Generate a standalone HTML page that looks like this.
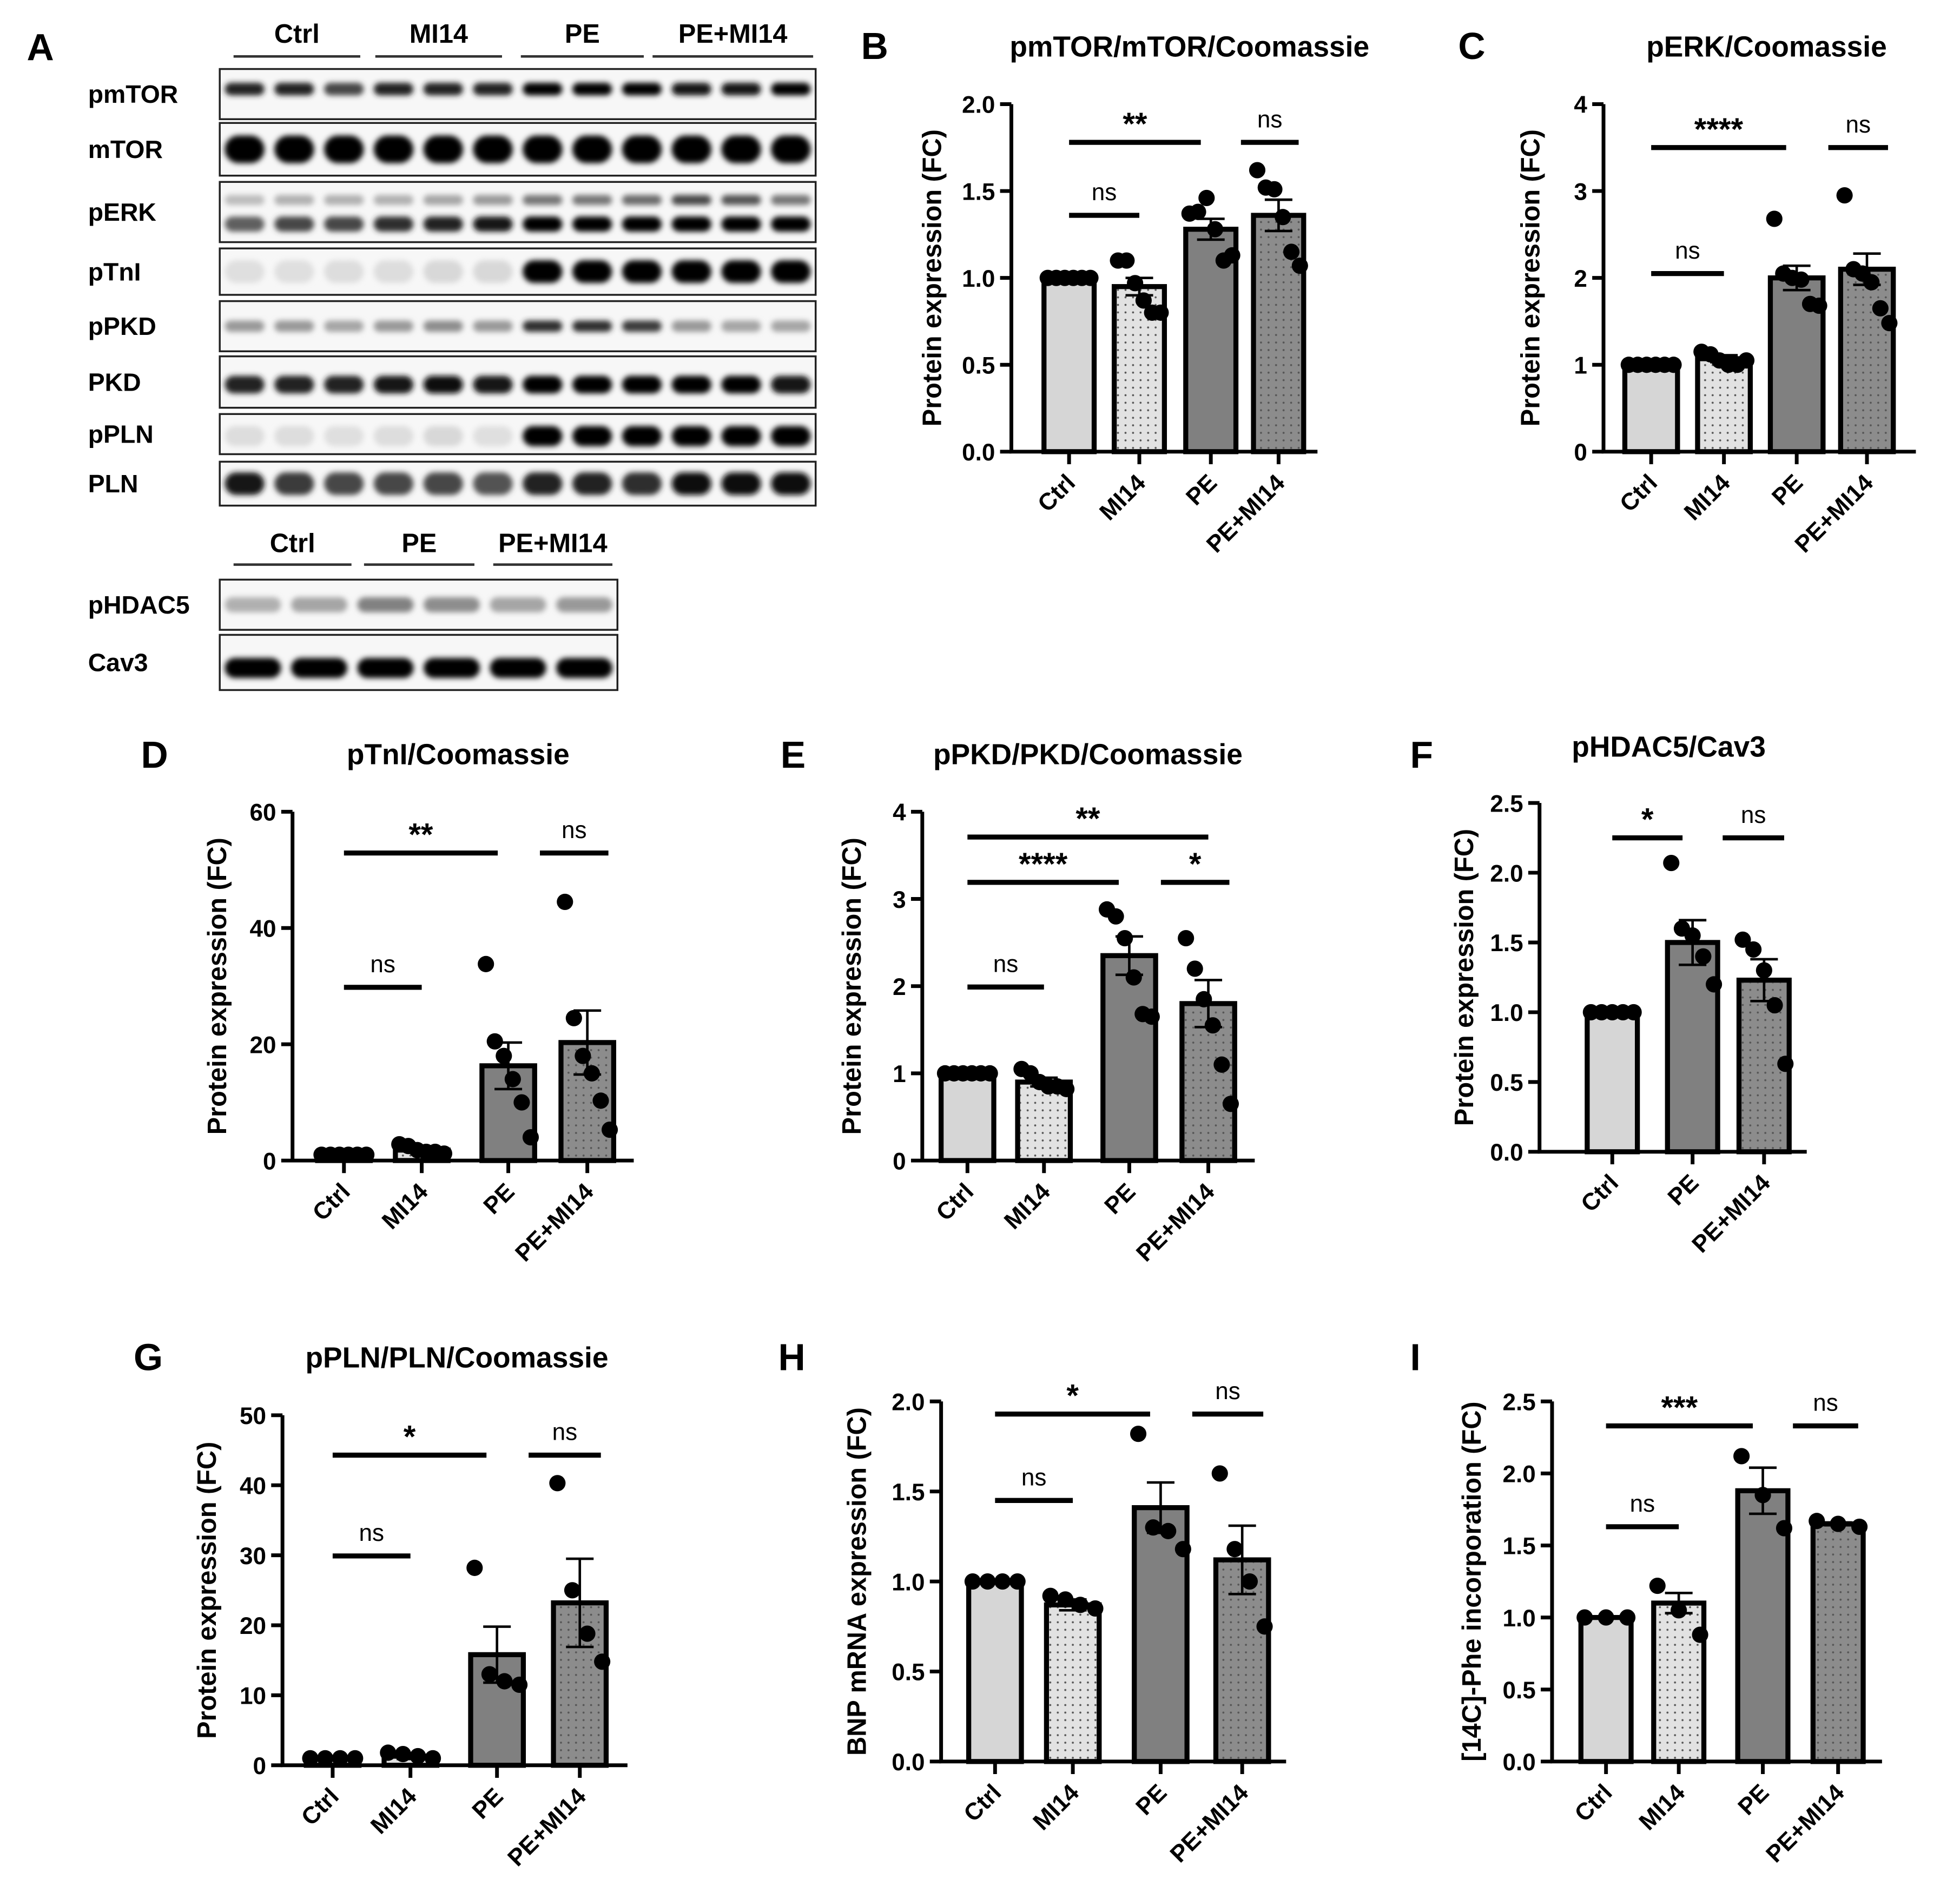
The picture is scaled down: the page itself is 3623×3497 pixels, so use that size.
<!DOCTYPE html>
<html><head><meta charset="utf-8"><style>
html,body{margin:0;padding:0;background:#fff;}
svg{display:block;font-family:"Liberation Sans",Arial,sans-serif;font-weight:bold;}
</style></head><body>
<svg id="fig" width="3623" height="3497" viewBox="0 0 1562 1508" xmlns="http://www.w3.org/2000/svg">
<defs>
<pattern id="dots" width="6" height="6" patternUnits="userSpaceOnUse"><circle cx="3" cy="3" r="0.8" fill="#555"/></pattern>
<filter id="blur" x="-20%" y="-50%" width="140%" height="200%"><feGaussianBlur stdDeviation="2.2"/></filter>
</defs>
<g id="blots"></g>
<g id="charts"></g>
</svg>
<script>
// ---------- data ----------
const cats4 = ["Ctrl","MI14","PE","PE+MI14"];
const cats3 = ["Ctrl","PE","PE+MI14"];

const bTicks = [0,0.5,1.0,1.5,2.0];
const bMeans = [1.0,0.95,1.28,1.36];
const bSems = [0.01,0.05,0.06,0.09];
const bPts = [[1,1,1,1,1,1],[1.1,1.1,0.97,0.87,0.8,0.8],[1.37,1.38,1.46,1.28,1.1,1.13],[1.62,1.52,1.51,1.35,1.15,1.07]];
const bSig = [[0,2,1.78,"**"],[2,3,1.78,"ns"],[0,1,1.36,"ns"]];

const cTicks = [0,1,2,3,4];
const cMeans = [1.0,1.07,2.0,2.1];
const cSems = [0.01,0.04,0.14,0.18];
const cPts = [[1,1,1,1,1,1],[1.15,1.12,1.05,1.0,1.0,1.05],[2.68,2.05,2.0,1.98,1.7,1.68],[2.95,2.1,2.05,1.95,1.65,1.48]];
const cSig = [[0,2,3.5,"****"],[2,3,3.5,"ns"],[0,1,2.05,"ns"]];

const dTicks = [0,20,40,60];
const dMeans = [1,1.8,16.3,20.3];
const dSems = [0.2,0.4,4,5.5];
const dPts = [[1,1,1,1,1,1],[2.8,2.5,1.8,1.5,1.5,1.2],[33.8,20.5,18,14,10,4],[44.5,24.5,18,15,10.3,5.3]];
const dSig = [[0,2,52.9,"**"],[2,3,52.9,"ns"],[0,1,29.8,"ns"]];

const eTicks = [0,1,2,3,4];
const eMeans = [1.0,0.9,2.35,1.8];
const eSems = [0.02,0.05,0.22,0.27];
const ePts = [[1,1,1,1,1,1],[1.05,1.0,0.9,0.85,0.85,0.82],[2.88,2.8,2.55,2.1,1.68,1.65],[2.55,2.2,1.85,1.55,1.1,0.65]];
const eSig = [[0,3,3.71,"**"],[0,2,3.19,"****"],[2,3,3.19,"*"],[0,1,1.99,"ns"]];

const fTicks = [0,0.5,1.0,1.5,2.0,2.5];
const fMeans = [1.0,1.5,1.23];
const fSems = [0.005,0.16,0.15];
const fPts = [[1,1,1,1,1],[2.07,1.6,1.55,1.4,1.2],[1.52,1.45,1.3,1.05,0.63]];
const fSig = [[0,1,2.25,"*"],[1,2,2.25,"ns"]];

const gTicks = [0,10,20,30,40,50];
const gMeans = [1,1.3,15.8,23.2];
const gSems = [0.1,0.4,4,6.3];
const gPts = [[1,1,1,1],[1.8,1.6,1.3,1.0],[28.2,13,12,11.5],[40.3,25,18.8,14.8]];
const gSig = [[0,2,44.3,"*"],[2,3,44.3,"ns"],[0,1,29.9,"ns"]];

const hTicks = [0,0.5,1.0,1.5,2.0];
const hMeans = [1.0,0.87,1.41,1.12];
const hSems = [0.005,0.03,0.14,0.19];
const hPts = [[1,1,1,1],[0.92,0.9,0.87,0.85],[1.82,1.3,1.28,1.18],[1.6,1.18,1.0,0.75]];
const hSig = [[0,2,1.93,"*"],[2,3,1.93,"ns"],[0,1,1.45,"ns"]];

const iTicks = [0,0.5,1.0,1.5,2.0,2.5];
const iMeans = [1.0,1.1,1.88,1.65];
const iSems = [0.005,0.07,0.16,0.01];
const iPts = [[1,1,1],[1.22,1.05,0.88],[2.12,1.85,1.62],[1.67,1.65,1.63]];
const iSig = [[0,2,2.33,"***"],[2,3,2.33,"ns"],[0,1,1.63,"ns"]];

const NS="http://www.w3.org/2000/svg";
function mk(tag, attrs, parent){const e=document.createElementNS(NS,tag);for(const k in attrs)e.setAttribute(k,attrs[k]);parent.appendChild(e);return e;}

const fills = {"Ctrl":["#d6d6d6",false],"MI14":["#e2e2e2",true],"PE":["#808080",false],"PE+MI14":["#8c8c8c",true]};

function chart(p){
  const root=document.getElementById('charts');
  const g=mk('g',{},root);
  
  
  const max=p.ticks[p.ticks.length-1];
  const y=v=>p.yBot-(v/max)*(p.yBot-p.yTop);
  const bw=p.bw||41;
  const L=mk('text',{x:p.lx,y:p.ly,'font-size':30,'text-anchor':'middle'},g);L.textContent=p.id.toUpperCase();
  
  
  if(p.title){const t=mk('text',{x:p.tx,y:p.ty,'font-size':23,'text-anchor':'middle'},g);t.textContent=p.title;
    
    }
  p.cats.forEach((c,i)=>{
    const cx=p.cx[i], m=p.means[i];
    const [col,dot]=fills[c];
    const r=mk('rect',{x:cx-bw/2,y:y(m),width:bw,height:p.yBot-y(m),fill:col,stroke:'#000','stroke-width':4},g);
    
    
    if(dot){const d=mk('rect',{x:cx-bw/2+2,y:y(m)+2,width:bw-4,height:Math.max(0,p.yBot-y(m)-4),fill:'url(#dots)'},g);
      
      }
    const pts=p.pts[i], n=pts.length, spread=bw*0.85;
    pts.forEach((v,j)=>{
      const ox= n>1 ? (j-(n-1)/2)*spread/(n-1) : 0;
      const ci=mk('circle',{cx:cx+ox,cy:y(v),r:6.5,fill:'#000'},g);
      
      
    });
    const s=p.sems[i];
    const eb=mk('path',{d:`M${cx},${y(m-s)}V${y(m+s)}M${cx-11},${y(m+s)}H${cx+11}M${cx-11},${y(m-s)}H${cx+11}`,stroke:'#000','stroke-width':2,fill:'none'},g);
    
    
    mk('line',{x1:cx,x2:cx,y1:p.yBot,y2:p.yBot+10,stroke:'#000','stroke-width':3},g);
    const lb=mk('text',{x:cx+6,y:p.yBot+26,'font-size':19,'text-anchor':'end',transform:`rotate(-45 ${cx+6} ${p.yBot+26})`},g);
    lb.textContent=c;
    
    
  });
  const ax=mk('path',{d:`M${p.x0},${p.yTop}V${p.yBot}H${p.x1}`,stroke:'#000','stroke-width':3,fill:'none'},g);
  
  
  p.ticks.forEach(t=>{
    mk('line',{x1:p.x0-9,x2:p.x0,y1:y(t),y2:y(t),stroke:'#000','stroke-width':3},g);
    const tl=mk('text',{x:p.x0-13,y:y(t)+7,'font-size':19,'text-anchor':'end'},g);
    tl.textContent=p.dec? t.toFixed(1): String(t);
    
    
  });
  const yt=mk('text',{x:p.ytx,y:(p.yTop+p.yBot)/2,'font-size':21,'text-anchor':'middle',transform:`rotate(-90 ${p.ytx} ${(p.yTop+p.yBot)/2})`},g);
  yt.textContent=p.ytitle;
  
  
  p.sig.forEach(([a,b,v,txt])=>{
    const follows=p.sig.some(s=>s[2]===v && s[1]===a);
    const precedes=p.sig.some(s=>s[2]===v && s[0]===b);
    const x1=follows? p.cx[a]+bw*0.6 : p.cx[a];
    const x2=precedes? p.cx[b]-bw*0.2 : (follows? p.cx[b]+bw*0.4 : p.cx[b]);
    const ln=mk('line',{x1:x1,x2:x2,y1:y(v),y2:y(v),stroke:'#000','stroke-width':4},g);
    
    
    const isNs=txt==='ns';
    const st=mk('text',{x:(x1+x2)/2,y:y(v)-(isNs?12:6),'font-size':isNs?19:25,'font-weight':isNs?'normal':'bold','text-anchor':'middle'},g);
    st.textContent=txt;
    
    
  });
}

const PE="Protein expression (FC)";
chart({id:'b',cats:cats4,ticks:bTicks,means:bMeans,sems:bSems,pts:bPts,sig:bSig,dec:true,x0:806,x1:1050,yTop:83,yBot:360,cx:[852,908,965,1019],lx:697,ly:47,title:"pmTOR/mTOR/Coomassie",tx:948,ty:45,ytx:750,ytitle:PE,bw:40});
chart({id:'c',cats:cats4,ticks:cTicks,means:cMeans,sems:cSems,pts:cPts,sig:cSig,dec:false,x0:1278,x1:1527,yTop:83,yBot:360,cx:[1316,1374,1432,1488],lx:1173,ly:47,title:"pERK/Coomassie",tx:1408,ty:45,ytx:1227,ytitle:PE,bw:42});
chart({id:'d',cats:cats4,ticks:dTicks,means:dMeans,sems:dSems,pts:dPts,sig:dSig,dec:false,x0:233,x1:505,yTop:647,yBot:925,cx:[274,336,405,468],lx:123,ly:612,title:"pTnI/Coomassie",tx:365,ty:609,ytx:180,ytitle:PE,bw:42});
chart({id:'e',cats:cats4,ticks:eTicks,means:eMeans,sems:eSems,pts:ePts,sig:eSig,dec:false,x0:735,x1:1000,yTop:647,yBot:925,cx:[771,832,900,963],lx:632,ly:612,title:"pPKD/PKD/Coomassie",tx:867,ty:609,ytx:686,ytitle:PE,bw:42});
chart({id:'f',cats:cats3,ticks:fTicks,means:fMeans,sems:fSems,pts:fPts,sig:fSig,dec:true,x0:1227,x1:1440,yTop:640,yBot:918,cx:[1285,1349,1406],lx:1133,ly:612,title:"pHDAC5/Cav3",tx:1330,ty:603,ytx:1174,ytitle:PE,bw:40});
chart({id:'g',cats:cats4,ticks:gTicks,means:gMeans,sems:gSems,pts:gPts,sig:gSig,dec:false,x0:225,x1:500,yTop:1128,yBot:1407,cx:[265,327,396,462],lx:118,ly:1092,title:"pPLN/PLN/Coomassie",tx:364,ty:1090,ytx:172,ytitle:PE,bw:42});
chart({id:'h',cats:cats4,ticks:hTicks,means:hMeans,sems:hSems,pts:hPts,sig:hSig,dec:true,x0:750,x1:1025,yTop:1117,yBot:1404,cx:[793,855,925,990],lx:631,ly:1092,title:null,ytx:690,ytitle:"BNP mRNA expression (FC)",bw:42});
chart({id:'i',cats:cats4,ticks:iTicks,means:iMeans,sems:iSems,pts:iPts,sig:iSig,dec:true,x0:1237,x1:1500,yTop:1117,yBot:1404,cx:[1280,1338,1405,1465],lx:1128,ly:1092,title:null,ytx:1180,ytitle:"[14C]-Phe incorporation (FC)",bw:40});

// ---------- blots ----------
const blotRows1 = ["pmTOR","mTOR","pERK","pTnI","pPKD","PKD","pPLN","PLN"];
const blotRows2 = ["pHDAC5","Cav3"];
(function(){
  const root=document.getElementById('blots');
  const A=mk('text',{x:32,y:48,'font-size':30,'text-anchor':'middle'},root);A.textContent="A";
  
  
  const hdr=[["Ctrl",186,287],["MI14",299,400],["PE",415,513],["PE+MI14",520,648],["Ctrl",186,280,432,450],["PE",290,378,432,450],["PE+MI14",393,488,432,450]];
  hdr.forEach(h=>{
    const ty=h[3]||26, ly=h[4]||45;
    const t=mk('text',{x:(h[1]+h[2])/2,y:ty+8,'font-size':21,'text-anchor':'middle'},root);t.textContent=h[0];
    
    
    mk('line',{x1:h[1],x2:h[2],y1:ly,y2:ly,stroke:'#333','stroke-width':2},root);
  });
  const geo=[
    [55,95,[[0.4,10,[.85,.85,.7,.85,.85,.85,1,1,1,.9,.9,1]]]],
    [98,140,[[0.5,22,[1,1,1,1,1,1,1,1,1,1,1,1]]]],
    [145,193,[[0.3,8,[.2,.25,.25,.25,.3,.35,.5,.5,.55,.7,.65,.5]],[0.7,12,[.6,.7,.7,.8,.85,.9,1,1,1,1,1,1]]]],
    [198,235,[[0.5,18,[.05,.05,.06,.06,.08,.08,1,1,1,1,1,1]]]],
    [240,280,[[0.5,9,[.35,.35,.3,.35,.4,.35,.8,.8,.75,.35,.3,.3]]]],
    [284,325,[[0.55,14,[.85,.85,.85,.9,.95,.9,1,1,1,1,1,.9]]]],
    [330,362,[[0.55,16,[.06,.06,.05,.06,.08,.05,1,1,1,1,1,1]]]],
    [368,403,[[0.5,18,[.9,.75,.7,.7,.7,.65,.85,.85,.8,.95,.95,.95]]]]
  ];
  function box(name,y0,y1,x0,x1,bands,lanes){
    const g=mk('g',{},root);
    
    
    const lb=mk('text',{x:70,y:(y0+y1)/2+7,'font-size':20},g);lb.textContent=name;
    
    
    mk('rect',{x:x0,y:y0,width:x1-x0,height:y1-y0,fill:'#f7f7f7'},g);
    const lw=(x1-x0)/lanes;
    bands.forEach(([f,h,ints])=>{
      for(let k=0;k<lanes;k++){
        const v=Math.round(235*(1-ints[k]));
        mk('rect',{x:x0+k*lw+4,y:y0+(y1-y0)*f-h/2,width:lw-8,height:h,rx:h/2,fill:`rgb(${v},${v},${v})`,filter:'url(#blur)'},g);
      }
    });
    mk('rect',{x:x0,y:y0,width:x1-x0,height:y1-y0,fill:'none',stroke:'#222','stroke-width':1.5},g);
  }
  blotRows1.forEach((n,i)=>box(n,geo[i][0],geo[i][1],175,650,geo[i][2],12));
  box(blotRows2[0],462,502,175,492,[[0.5,12,[.25,.3,.45,.4,.3,.35]]],6);
  box(blotRows2[1],506,550,175,492,[[0.6,16,[1,1,1,1,1,1]]],6);
})();
</script>
</body></html>
